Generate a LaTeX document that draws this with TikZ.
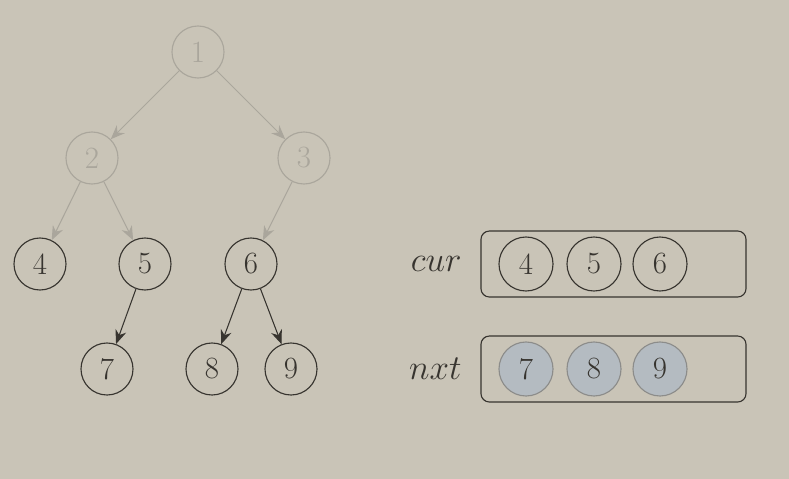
\documentclass[tikz,border=0pt]{standalone}
\usepackage{amsmath}
\usepackage{xcolor}
\usetikzlibrary{arrows.meta, positioning}
\definecolor{bgPaper}{RGB}{201,196,183}
\definecolor{tkFade}{RGB}{170,166,156}
\definecolor{tkInk}{RGB}{55,52,47}
\definecolor{tkQueue}{RGB}{180,187,193}
\definecolor{tkRim}{RGB}{140,140,138}

\begin{document}
\begin{tikzpicture}[
    x=0.025cm, y=-0.025cm,
    tnode/.style={circle, draw=tkInk, line width=0.8pt, minimum size=1.3cm, inner sep=0pt,
      text=tkInk, font=\fontsize{22}{24}\selectfont},
    fade/.style={tnode, draw=tkFade, text=tkFade},
    qnode/.style={tnode, minimum size=1.35cm},
    done/.style={qnode, fill=tkQueue, draw=tkRim},
    edge/.style={-{Stealth[length=10pt, width=8pt]}, draw=tkInk, line width=0.75pt},
    fedge/.style={edge, draw=tkFade},
    qbox/.style={draw=tkInk, line width=0.8pt, rounded corners=6pt, minimum width=6.625cm, minimum height=1.65cm},
    lbl/.style={text=tkInk, font=\fontsize{27}{29}\selectfont}
  ]
    \fill[bgPaper] (0,0) rectangle (789,479);
    \useasboundingbox (0,0) rectangle (789,479);
    % tree
    \node[fade] (t1) at (198,52) {1};
    \node[fade] (t2) at (92,158) {2};
    \node[fade] (t3) at (304,158) {3};
    \node[tnode] (t4) at (40,264) {4};
    \node[tnode] (t5) at (145,264) {5};
    \node[tnode] (t6) at (251,264) {6};
    \node[tnode] (t7) at (107,369) {7};
    \node[tnode] (t8) at (212,369) {8};
    \node[tnode] (t9) at (291,369) {9};
    \draw[fedge] (t1) -- (t2);
    \draw[fedge] (t1) -- (t3);
    \draw[fedge] (t2) -- (t4);
    \draw[fedge] (t2) -- (t5);
    \draw[fedge] (t3) -- (t6);
    \draw[edge] (t5) -- (t7);
    \draw[edge] (t6) -- (t8);
    \draw[edge] (t6) -- (t9);
    % queues
    \node[qbox] (cur) at (613.5,264) {};
    \node[qbox] (nxt) at (613.5,369) {};
    \node[lbl, left=0.35cm of cur] (curlbl) {$cur$};
    \node[lbl, left=0.35cm of nxt] (nxtlbl) {$nxt$};
    \node[qnode] (c4) at (526,264) {4};
    \node[qnode] (c5) at (594,264) {5};
    \node[qnode] (c6) at (660,264) {6};
    \node[done] (n7) at (526,369) {7};
    \node[done] (n8) at (594,369) {8};
    \node[done] (n9) at (660,369) {9};
  \end{tikzpicture}
\end{document}
